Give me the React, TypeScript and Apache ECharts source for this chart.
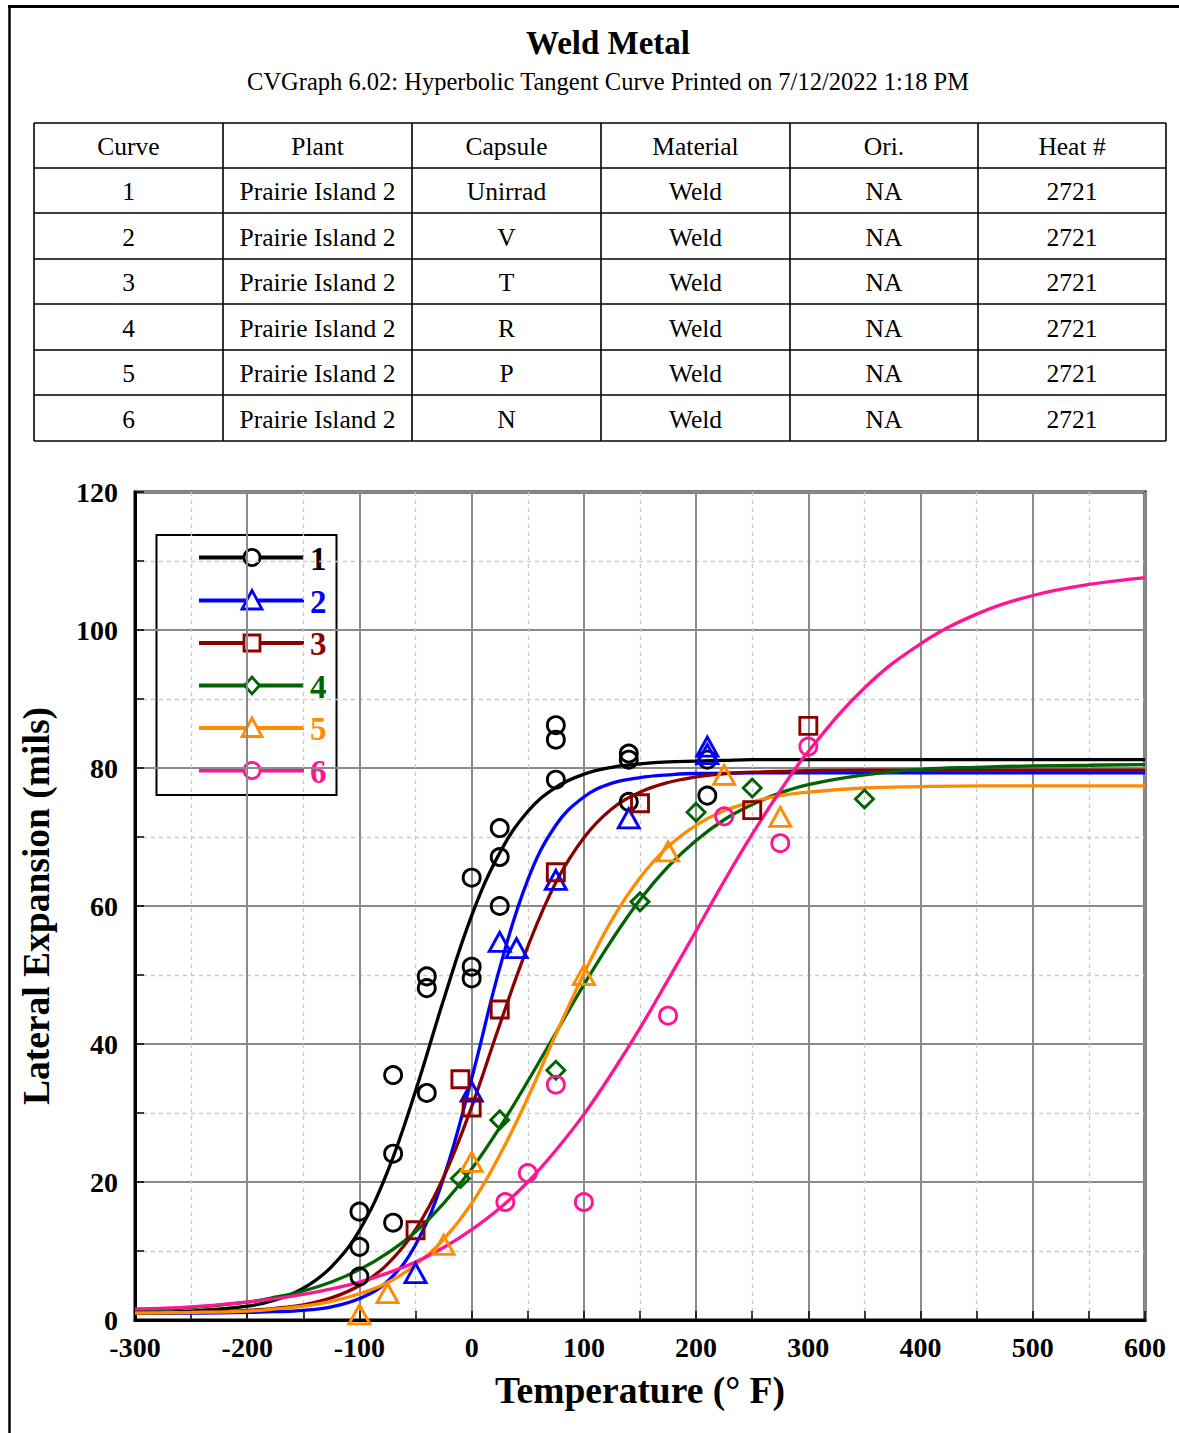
import React, { useEffect, useRef } from "react";
import * as echarts from "echarts";

// ---------- data ----------
const TITLE = "Weld Metal";
const SUBTITLE = "CVGraph 6.02: Hyperbolic Tangent Curve Printed on 7/12/2022 1:18 PM";

const TABLE_HEAD = ["Curve", "Plant", "Capsule", "Material", "Ori.", "Heat #"];
const TABLE_ROWS = [
  ["1", "Prairie Island 2", "Unirrad", "Weld", "NA", "2721"],
  ["2", "Prairie Island 2", "V", "Weld", "NA", "2721"],
  ["3", "Prairie Island 2", "T", "Weld", "NA", "2721"],
  ["4", "Prairie Island 2", "R", "Weld", "NA", "2721"],
  ["5", "Prairie Island 2", "P", "Weld", "NA", "2721"],
  ["6", "Prairie Island 2", "N", "Weld", "NA", "2721"],
];

const CURVE_NAMES = ["1", "2", "3", "4", "5", "6"];
const CURVE_COLORS = ["#000000", "#0000ff", "#8b0000", "#006400", "#ff8c00", "#ff1493"];
const CURVE_SYMBOLS = ["circle", "triangle", "rect", "diamond", "triangle", "circle"];

const TEMPS = [-300, -250, -200, -175, -150, -125, -100, -75, -50, -25, 0, 25, 50, 75, 100, 125, 150, 175, 200, 225, 250, 275, 300, 350, 400, 450, 500, 550, 600];

const FIT_1 = [1.1, 1.3, 2.0, 2.9, 4.6, 7.7, 13.0, 21.5, 33.2, 46.4, 58.6, 67.7, 73.7, 77.2, 79.1, 80.1, 80.6, 80.9, 81.0, 81.1, 81.2, 81.2, 81.2, 81.2, 81.2, 81.2, 81.2, 81.2, 81.2];
const FIT_2 = [1.0, 1.0, 1.1, 1.2, 1.4, 1.9, 3.1, 5.6, 10.9, 20.6, 35.0, 51.0, 63.8, 71.7, 75.8, 77.8, 78.6, 79.0, 79.2, 79.2, 79.3, 79.3, 79.3, 79.3, 79.3, 79.3, 79.3, 79.3, 79.3];
const FIT_3 = [1.0, 1.1, 1.4, 1.7, 2.2, 3.2, 5.0, 8.1, 13.1, 20.7, 30.9, 42.8, 54.1, 63.4, 69.9, 74.1, 76.5, 77.9, 78.7, 79.2, 79.4, 79.5, 79.6, 79.7, 79.7, 79.7, 79.7, 79.7, 79.7];
const FIT_4 = [1.4, 1.8, 2.6, 3.3, 4.2, 5.5, 7.3, 9.7, 12.8, 16.9, 21.9, 27.9, 34.6, 41.6, 48.6, 55.1, 60.9, 65.7, 69.5, 72.5, 74.7, 76.4, 77.6, 79.0, 79.8, 80.1, 80.3, 80.4, 80.5];
const FIT_5 = [1.0, 1.1, 1.3, 1.6, 2.0, 2.7, 3.8, 5.4, 8.0, 11.7, 16.9, 23.9, 32.2, 41.4, 50.2, 58.0, 64.1, 68.6, 71.7, 73.8, 75.1, 76.0, 76.5, 77.1, 77.3, 77.4, 77.4, 77.4, 77.4];
const FIT_6 = [1.6, 1.9, 2.6, 3.1, 3.7, 4.5, 5.5, 6.8, 8.4, 10.5, 13.1, 16.2, 20.0, 24.6, 29.8, 35.8, 42.3, 49.3, 56.4, 63.6, 70.4, 76.7, 82.4, 91.6, 98.0, 102.3, 105.0, 106.6, 107.6];
const FITS = [FIT_1, FIT_2, FIT_3, FIT_4, FIT_5, FIT_6];

const PTS_1 = [[-100, 15.7], [-100, 10.6], [-100, 6.3], [-70, 35.5], [-70, 24.1], [-70, 14.1], [-40, 49.8], [-40, 48.1], [-40, 32.9], [0, 64.1], [0, 51.2], [0, 49.5], [25, 71.3], [25, 67.1], [25, 60.0], [75, 86.2], [75, 84.1], [75, 78.3], [140, 82.1], [140, 81.2], [140, 75.1], [210, 81.2], [210, 76.0]];
const PTS_2 = [[-50, 6.8], [0, 33.1], [25, 54.8], [40, 53.9], [75, 63.8], [140, 72.7], [210, 83.1], [210, 82.0]];
const PTS_3 = [[-50, 13.0], [-10, 34.9], [0, 30.8], [25, 45.0], [75, 64.9], [150, 74.9], [250, 73.9], [300, 86.1]];
const PTS_4 = [[-10, 20.5], [25, 29.0], [75, 36.2], [150, 60.6], [200, 73.6], [250, 77.1], [350, 75.5]];
const PTS_5 = [[-100, 0.8], [-75, 3.9], [-25, 10.9], [0, 22.9], [100, 50.0], [175, 67.9], [225, 79.0], [275, 72.9]];
const PTS_6 = [[30, 17.1], [50, 21.3], [75, 34.1], [100, 17.1], [175, 44.1], [225, 73.0], [275, 69.1], [300, 83.1]];
const POINTS = [PTS_1, PTS_2, PTS_3, PTS_4, PTS_5, PTS_6];

const X_NAME = "Temperature (° F)";
const Y_NAME = "Lateral Expansion (mils)";

// ---------- layout / style ----------
const W = 1179;
const H = 1433;
const SERIF = '"Liberation Serif", "Times New Roman", serif';
const COL_X = [34, 223, 412, 601, 790, 978, 1166];
const ROW_Y = [123, 168, 213, 259, 304, 350, 395, 441];

function symbolSize(sym: string): number | number[] {
  if (sym === "triangle") return [21, 19];
  if (sym === "rect") return 17;
  if (sym === "diamond") return [18, 18];
  return 17;
}

function legendMarker(sym: string, cx: number, cy: number, color: string): any {
  const style = { fill: "#fff", stroke: color, lineWidth: 2.8 };
  if (sym === "circle") return { type: "circle", shape: { cx, cy, r: 8 }, style };
  if (sym === "rect") return { type: "rect", shape: { x: cx - 8, y: cy - 8, width: 16, height: 16 }, style };
  if (sym === "diamond")
    return { type: "polygon", shape: { points: [[cx, cy - 8.5], [cx + 7.5, cy], [cx, cy + 8.5], [cx - 7.5, cy]] }, style };
  return { type: "polygon", shape: { points: [[cx, cy - 10], [cx + 10, cy + 8.5], [cx - 10, cy + 8.5]] }, style };
}

function buildGraphic(): any[] {
  const g: any[] = [];
  // page frame
  g.push({ type: "line", shape: { x1: 8, y1: 6.5, x2: W, y2: 6.5 }, style: { stroke: "#000", lineWidth: 3 } });
  g.push({ type: "line", shape: { x1: 9.5, y1: 5, x2: 9.5, y2: H }, style: { stroke: "#000", lineWidth: 2.5 } });
  // titles
  g.push({ type: "text", x: 608, y: 43, style: { text: TITLE, font: `bold 33px ${SERIF}`, fill: "#000", align: "center", verticalAlign: "middle" } });
  g.push({ type: "text", x: 608, y: 81, style: { text: SUBTITLE, font: `24.5px ${SERIF}`, fill: "#000", align: "center", verticalAlign: "middle" } });
  // table lines
  const x0 = COL_X[0], x1 = COL_X[COL_X.length - 1];
  const y0 = ROW_Y[0], y1 = ROW_Y[ROW_Y.length - 1];
  ROW_Y.forEach((y) => g.push({ type: "line", shape: { x1: x0, y1: y, x2: x1, y2: y }, style: { stroke: "#000", lineWidth: 1.6 } }));
  COL_X.forEach((x) => g.push({ type: "line", shape: { x1: x, y1: y0, x2: x, y2: y1 }, style: { stroke: "#000", lineWidth: 1.6 } }));
  const rows = [TABLE_HEAD, ...TABLE_ROWS];
  rows.forEach((row, r) => {
    row.forEach((cell, c) => {
      g.push({
        type: "text",
        x: (COL_X[c] + COL_X[c + 1]) / 2,
        y: (ROW_Y[r] + ROW_Y[r + 1]) / 2 + 1,
        style: { text: cell, font: `25.5px ${SERIF}`, fill: "#000", align: "center", verticalAlign: "middle" },
      });
    });
  });
  // legend
  const lx = 156.5, ly = 535, lw = 180, lh = 260;
  const legendChildren: any[] = [];
  legendChildren.push({ type: "rect", shape: { x: lx, y: ly, width: lw, height: lh }, style: { fill: "#fff", stroke: "#000", lineWidth: 2 } });
  const rowsY = [557.5, 600.5, 643, 685.5, 728, 770.5];
  CURVE_NAMES.forEach((name, i) => {
    const cy = rowsY[i];
    const color = CURVE_COLORS[i];
    legendChildren.push({ type: "line", shape: { x1: 199, y1: cy, x2: 304, y2: cy }, style: { stroke: color, lineWidth: 3.8 } });
    legendChildren.push(legendMarker(CURVE_SYMBOLS[i], 252, cy, color));
    legendChildren.push({ type: "text", x: 310, y: cy + 1, style: { text: name, font: `bold 33px ${SERIF}`, fill: color, align: "left", verticalAlign: "middle" } });
  });
  g.push({ type: "group", z: 100, children: legendChildren });
  return g;
}

function buildOption(): any {
  const series: any[] = [];
  FITS.forEach((fit, i) => {
    series.push({
      name: CURVE_NAMES[i],
      type: "line",
      data: TEMPS.map((t, k) => [t, fit[k]]),
      smooth: 0.4,
      showSymbol: false,
      symbol: "none",
      lineStyle: { color: CURVE_COLORS[i], width: 3.3 },
      z: 3 + i,
      silent: true,
    });
  });
  POINTS.forEach((pts, i) => {
    series.push({
      name: CURVE_NAMES[i] + " data",
      type: "scatter",
      data: pts,
      symbol: CURVE_SYMBOLS[i],
      symbolSize: symbolSize(CURVE_SYMBOLS[i]),
      itemStyle: { color: "rgba(0,0,0,0)", borderColor: CURVE_COLORS[i], borderWidth: 2.9, opacity: 1 },
      z: 20 + i,
      silent: true,
    });
  });

  const labelStyle = { color: "#000", fontFamily: SERIF, fontWeight: "bold" as const, fontSize: 28 };
  const nameStyle = { color: "#000", fontFamily: SERIF, fontWeight: "bold" as const, fontSize: 37.5 };
  return {
    animation: false,
    backgroundColor: "#fff",
    textStyle: { fontFamily: SERIF },
    grid: { left: 135, top: 492, right: W - 1145, bottom: H - 1320, show: true, borderColor: "#000", borderWidth: 3, backgroundColor: "transparent" },
    xAxis: {
      type: "value",
      min: -300,
      max: 600,
      interval: 100,
      name: X_NAME,
      nameLocation: "middle",
      nameGap: 51,
      nameTextStyle: nameStyle,
      axisLine: { show: true, onZero: false, lineStyle: { color: "#000", width: 3 } },
      axisTick: { show: true, inside: true, length: 9, lineStyle: { color: "#000", width: 1.5 } },
      minorTick: { show: true, splitNumber: 2, length: 9, lineStyle: { color: "#000", width: 1.5 } },
      splitLine: { show: true, lineStyle: { color: "#8a8a8a", width: 2 } },
      minorSplitLine: { show: true, lineStyle: { color: "#c8c8c8", width: 1.3, type: [4, 4] } },
      axisLabel: { ...labelStyle, margin: 13 },
    },
    yAxis: {
      type: "value",
      min: 0,
      max: 120,
      interval: 20,
      name: Y_NAME,
      nameLocation: "middle",
      nameGap: 80,
      nameRotate: 90,
      nameTextStyle: nameStyle,
      axisLine: { show: true, onZero: false, lineStyle: { color: "#000", width: 3 } },
      axisTick: { show: true, inside: true, length: 9, lineStyle: { color: "#000", width: 1.5 } },
      minorTick: { show: true, splitNumber: 2, length: 9, lineStyle: { color: "#000", width: 1.5 } },
      splitLine: { show: true, lineStyle: { color: "#8a8a8a", width: 2 } },
      minorSplitLine: { show: true, lineStyle: { color: "#c8c8c8", width: 1.3, type: [4, 4] } },
      axisLabel: { ...labelStyle, margin: 17 },
    },
    series,
    graphic: buildGraphic(),
  };
}

export default function App() {
  const ref = useRef<HTMLDivElement>(null);
  useEffect(() => {
    if (!ref.current) return;
    const chart = echarts.init(ref.current, null, { renderer: "svg" });
    chart.setOption(buildOption());
    return () => chart.dispose();
  }, []);
  return <div ref={ref} style={{ position: "absolute", left: 0, top: 0, width: W, height: H, background: "#fff" }} />;
}
